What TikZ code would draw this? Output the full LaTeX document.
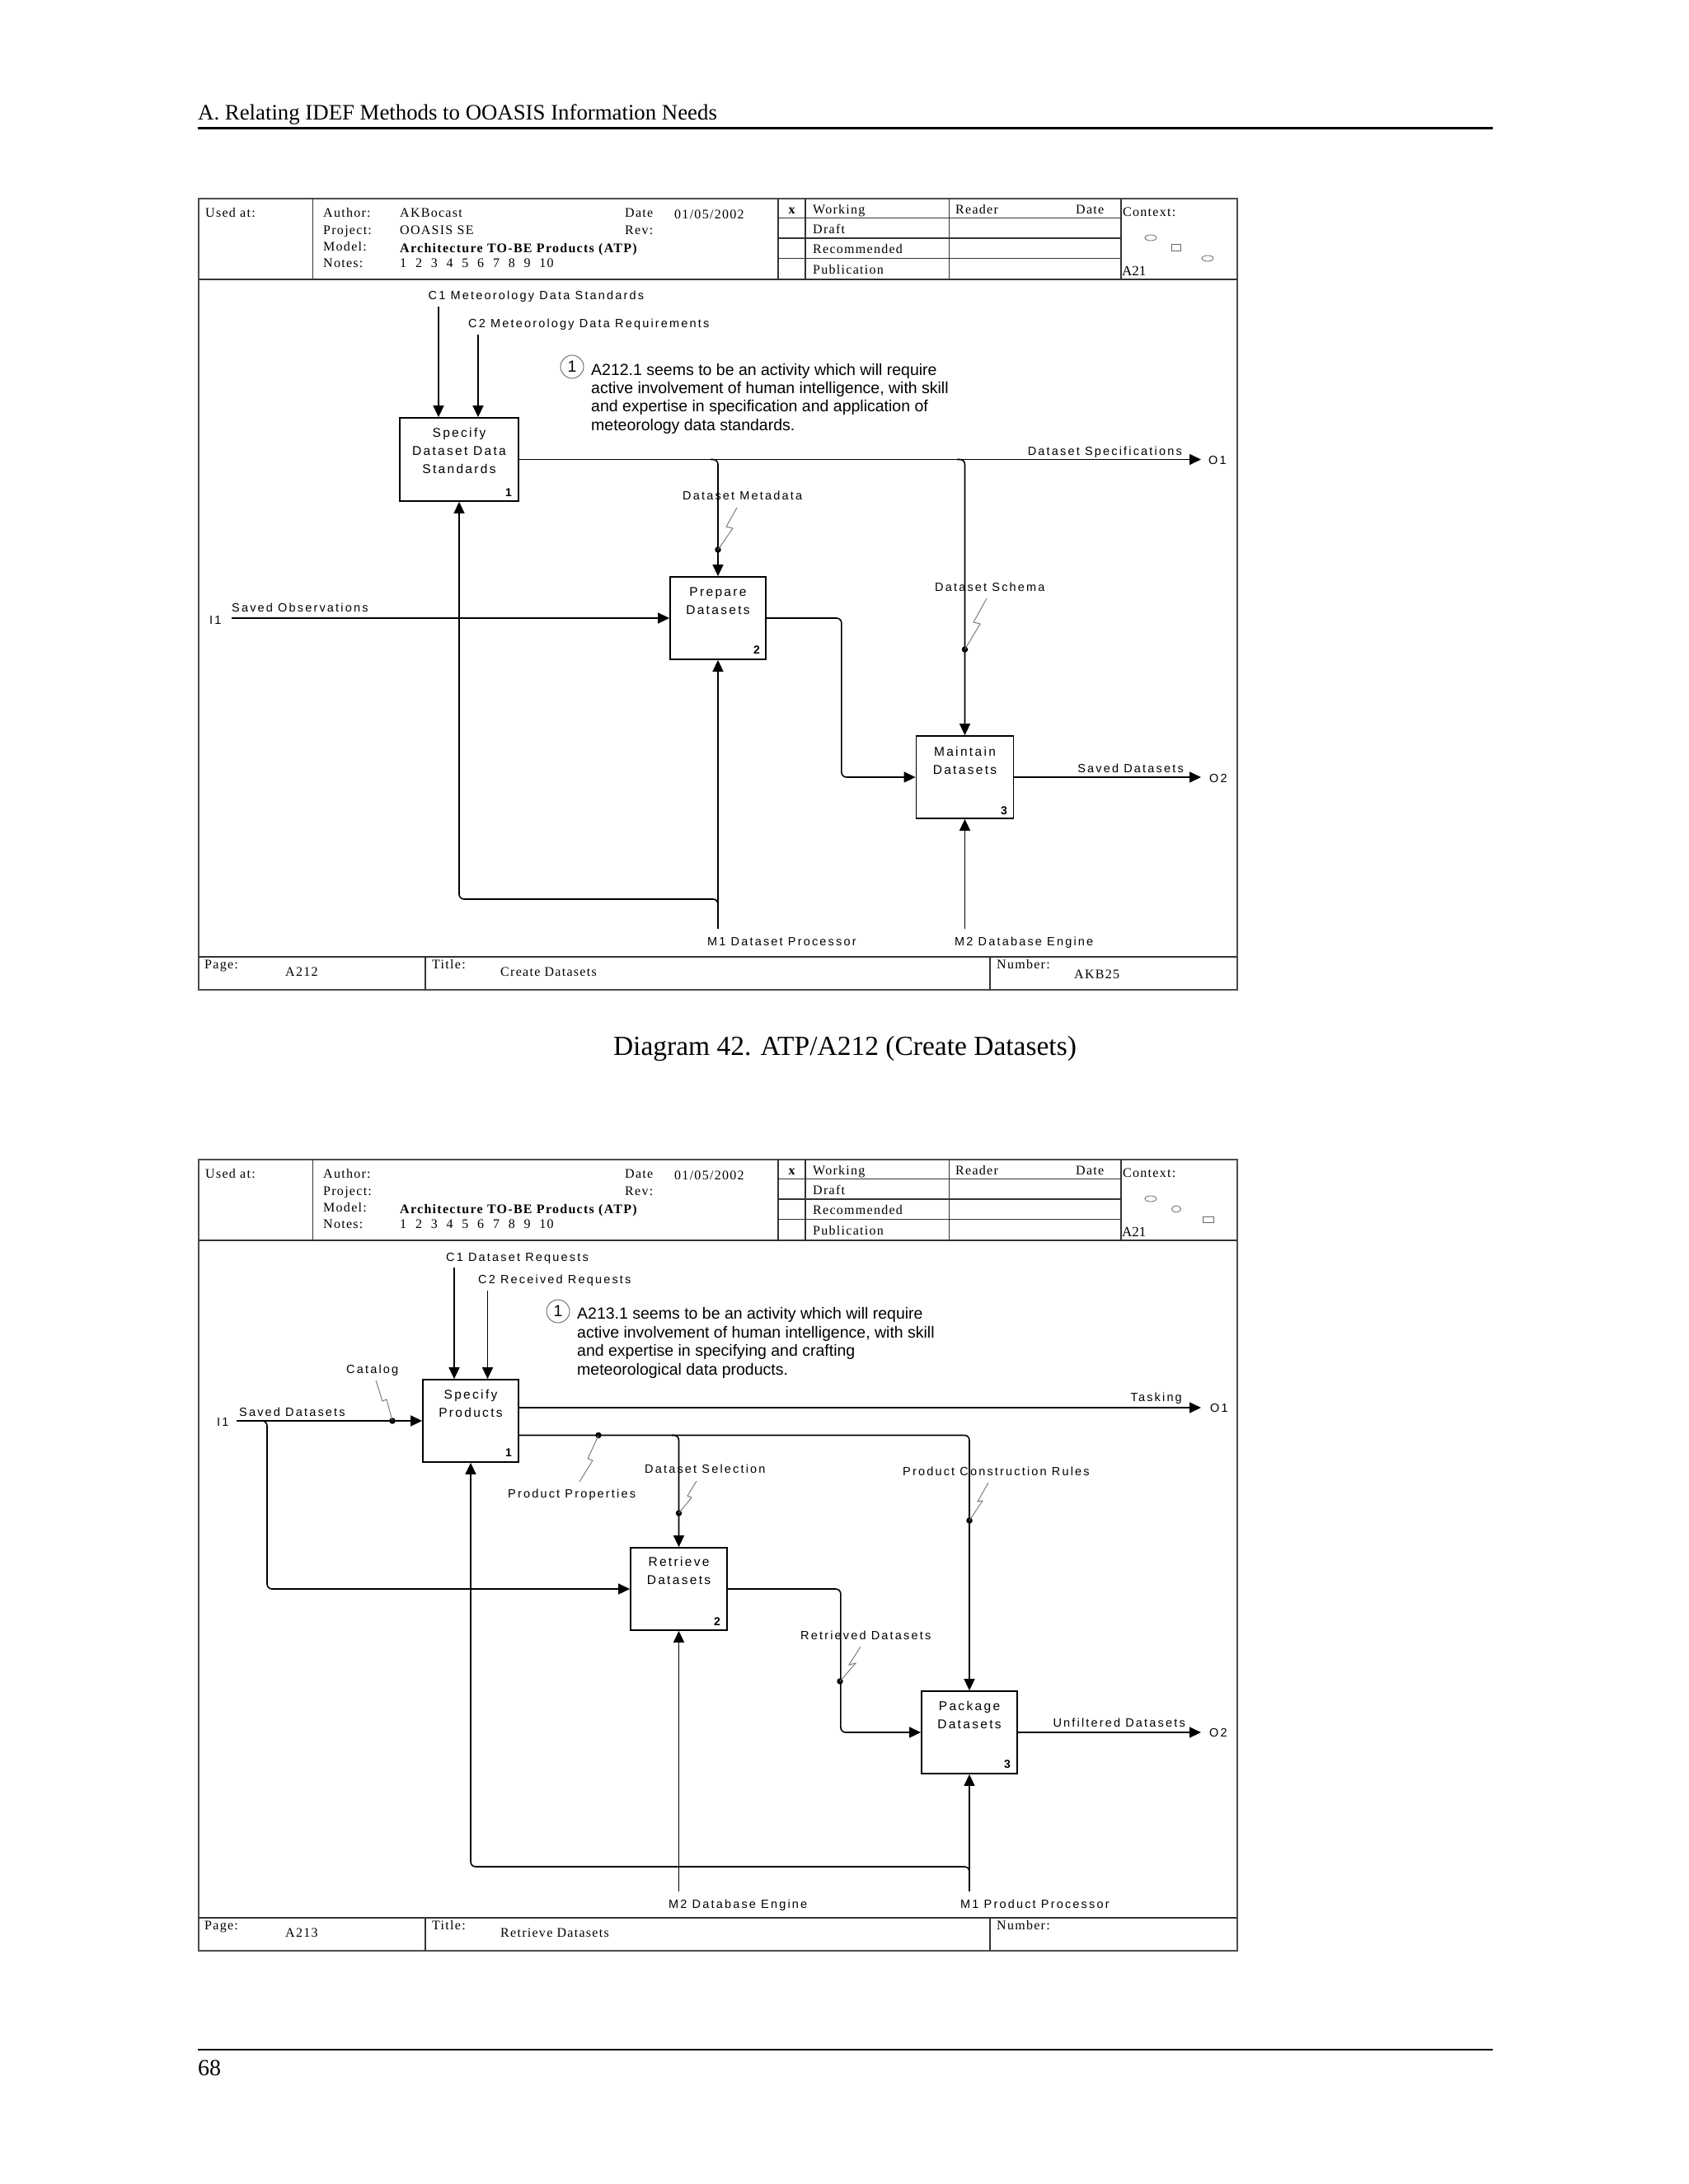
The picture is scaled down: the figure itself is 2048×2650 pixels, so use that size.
\documentclass[tikz,border=0pt]{standalone}
\usepackage{fontspec}
\setmainfont{Liberation Serif}
\newfontfamily\tbfont[LetterSpace=8]{Liberation Serif}
\newfontfamily\lblfont[LetterSpace=15]{Liberation Sans}
\newfontfamily\notefont{Liberation Sans}
\usetikzlibrary{arrows.meta,calc}
\tikzset{
  frm/.style={draw=black!70, line width=1.4},
  grd/.style={draw=black!80, line width=1.1},
  tb/.style={font=\tbfont\fontsize{16}{18}\selectfont, inner sep=0, anchor=base west},
  lbl/.style={font=\lblfont\fontsize{14.5}{17}\selectfont, inner sep=0, anchor=base west},
  lblr/.style={lbl, anchor=base east},
  ibox/.style={draw, line width=1.8, fill=white, inner sep=0},
  boxt/.style={font=\lblfont\fontsize{15.5}{22}\selectfont, align=center, inner sep=0, anchor=north},
  boxn/.style={font=\notefont\bfseries\fontsize{14}{16}\selectfont, inner sep=0, anchor=base east},
  wire/.style={line width=1.6},
  arr/.style={wire, -{Triangle[length=14pt,width=13pt]}},
  zig/.style={draw=black!55, line width=0.9},
  jdot/.style={circle, fill, inner sep=0, minimum size=7.5},
  notet/.style={font=\notefont\fontsize{19.5}{22.4}\selectfont, inner sep=0, anchor=base west},
  notec/.style={circle, draw=black!60, line width=0.9, minimum size=28, inner sep=0, font=\notefont\fontsize{19.5}{22}\selectfont},
  ctx/.style={draw=black!60, line width=0.8},
}
\newcommand\idefframe[7]{%
\begin{scope}[shift={(0,#2)}]
\draw[frm] (241,241) rectangle (1501,1201);
\draw[grd] (241,339) -- (1501,339);
\draw[grd] (379.5,241) -- (379.5,339);
\foreach \xx in {944,977,1151.5,1360} {\draw[grd] (\xx,241) -- (\xx,339);}
\foreach \yy in {264.5,289,313.5} {\draw[grd] (944,\yy) -- (1360,\yy);}
\draw[grd] (241,1161) -- (1501,1161);
\draw[grd] (516,1161) -- (516,1201);
\draw[grd] (1201,1161) -- (1201,1201);
\node[tb] (#1ua) at (249,263) {Used at:};
\node[tb] (#1au) at (392,263) {Author:};
\node[tb] (#1pj) at (392,284) {Project:};
\node[tb] (#1md) at (392,304) {Model:};
\node[tb] (#1nt) at (392,324) {Notes:};
\node[tb] (#1av) at (485,263) {#3};
\node[tb] (#1pv) at (485,284) {#4};
\node[tb, font=\tbfont\bfseries\fontsize{16}{18}\selectfont] (#1mv) at (485,306) {Architecture TO-BE Products (ATP)};
\foreach \n [count=\i from 0] in {1,...,10} {\node[tb] (#1nn\n) at (485+18.8*\i,324) {\n};}
\node[tb] (#1dt) at (758,263) {Date};
\node[tb] (#1dv) at (818,265) {01/05/2002};
\node[tb] (#1rv) at (758,284) {Rev:};
\node[tb, anchor=base, font=\tbfont\bfseries\fontsize{16}{18}\selectfont] (#1x) at (960.5,259) {x};
\node[tb] (#1wk) at (986,259) {Working};
\node[tb] (#1dr) at (986,283) {Draft};
\node[tb] (#1rc) at (986,307) {Recommended};
\node[tb] (#1pb) at (986,332) {Publication};
\node[tb] (#1rd) at (1159,259) {Reader};
\node[tb] (#1rdd) at (1305,259) {Date};
\node[tb] (#1cx) at (1362,262) {Context:};
\node[tb, font=\fontsize{17}{19}\selectfont] (#1a21) at (1361,334) {A21};
\node[tb] (#1pg) at (248,1175) {Page:};
\node[tb] (#1pgv) at (346,1184) {#5};
\node[tb] (#1tt) at (524,1175) {Title:};
\node[tb] (#1ttv) at (607,1184) {#6};
\node[tb] (#1nb) at (1209,1175) {Number:};
\node[tb] (#1nbv) at (1303,1187) {#7};
\end{scope}}
\begin{document}
\begin{tikzpicture}[x=1pt,y=-1pt]
\useasboundingbox (0,0) rectangle (2048,2650);
\fill[white] (0,0) rectangle (2048,2650);
% page furniture
\node[anchor=base west, inner sep=0, font=\fontsize{26.8}{30}\selectfont] (hdr) at (240,145) {A. Relating IDEF Methods to OOASIS Information Needs};
\draw[line width=3] (240,155.5) -- (1811,155.5);
\node[anchor=base, inner sep=0, font=\fontsize{33.5}{38}\selectfont] (cap) at (1025,1280) {Diagram 42. ATP/A212 (Create Datasets)};
\draw[line width=2] (240,2487) -- (1811,2487);
\node[anchor=base west, inner sep=0, font=\fontsize{28}{30}\selectfont] (pgno) at (240,2518) {68};
% frames
\idefframe{d1}{0}{AKBocast}{OOASIS SE}{A212}{Create Datasets}{AKB25}
\idefframe{d2}{1166}{}{}{A213}{Retrieve Datasets}{}
% context symbols
\draw[ctx] (1396,288.5) ellipse (7 and 3.5);
\draw[ctx] (1421,296.5) rectangle (1432,304.5);
\draw[ctx] (1465,313.5) ellipse (7 and 3.5);
\draw[ctx] (1396,1454.5) ellipse (7 and 3.5);
\draw[ctx] (1427,1467) ellipse (5.5 and 4);
\draw[ctx] (1459,1476.5) rectangle (1472,1483.5);

% ================= Diagram 1 =================
\node[ibox, minimum width=144, minimum height=101] (A1) at (557,557.5) {};
\node[boxt] (A1t) at (557,519) {Specify\\Dataset Data\\Standards};
\node[boxn] (A1n) at (621,602) {1};
\node[ibox, minimum width=116, minimum height=100] (A2) at (871,750) {};
\node[boxt] (A2t) at (871,713) {Prepare\\Datasets};
\node[boxn] (A2n) at (922,793) {2};
\node[ibox, minimum width=118, minimum height=100] (A3) at (1170.5,943) {};
\node[boxt] (A3t) at (1170.5,906) {Maintain\\Datasets};
\node[boxn] (A3n) at (1222,988) {3};

\node[notec] (n1c) at (694,445) {1};
\node[notet] (n1a) at (717,455) {A212.1 seems to be an activity which will require};
\node[notet] (n1b) at (717,477) {active involvement of human intelligence, with skill};
\node[notet] (n1d) at (717,499) {and expertise in specification and application of};
\node[notet] (n1e) at (717,522) {meteorology data standards.};

\coordinate (c1) at (532,372);
\coordinate (c2) at (580,406);
\node[lbl] (c1l) at (519.5,363) {C1 Meteorology Data Standards};
\node[lbl] (c2l) at (568,397) {C2 Meteorology Data Requirements};
\draw[arr] (c1) -- (c1 |- A1.north);
\draw[arr] (c2) -- (c2 |- A1.north);

\coordinate (o1) at (1457,557.5);
\draw[arr] (A1.east) -- (o1);
\node[lbl] (o1l) at (1466,563) {O1};
\node[lblr] (dsl) at (1434,552) {Dataset Specifications};
\coordinate (j1) at (862,557.5);
\draw[arr, rounded corners=6] (j1) -| (A2.north);
\coordinate (j2) at (1161,557.5);
\draw[arr, rounded corners=6] (j2) -| (A3.north);

\node[lbl] (dml) at (828,606) {Dataset Metadata};
\node[jdot] (dmd) at (871,667) {};
\draw[zig] (894,616) -- (881,639) -- (889,641) -- (dmd.center);

\coordinate (i1) at (281,750);
\node[lbl] (i1n) at (254,757) {I1};
\node[lbl] (sol) at (281,742) {Saved Observations};
\draw[arr] (i1) -- (A2.west);

\draw[arr, rounded corners=6] (A2.east) -- ++(91,0) |- (A3.west);

\node[lbl] (dscl) at (1134,717) {Dataset Schema};
\node[jdot] (dscd) at (1170.5,788) {};
\draw[zig] (1197,726) -- (1181,755) -- (1189,757) -- (dscd.center);

\coordinate (o2) at (1457,943);
\draw[arr] (A3.east) -- (o2);
\node[lbl] (o2l) at (1467,949) {O2};
\node[lblr] (sdl) at (1436,937) {Saved Datasets};

\coordinate (m1) at (871,1127);
\draw[arr] (m1) -- (A2.south);
\coordinate (m1b) at (871,1099);
\draw[arr, rounded corners=6] (m1b) -- (871,1091) -| (A1.south);
\node[lbl] (m1l) at (858,1147) {M1 Dataset Processor};
\coordinate (m2) at (1170.5,1127);
\draw[arr] (m2) -- (A3.south);
\node[lbl] (m2l) at (1158,1147) {M2 Database Engine};

% ================= Diagram 2 =================
\node[ibox, minimum width=116, minimum height=100] (B1) at (571,1724) {};
\node[boxt] (B1t) at (571,1686) {Specify\\Products};
\node[boxn] (B1n) at (621,1767) {1};
\node[ibox, minimum width=117, minimum height=100] (B2) at (823.5,1928) {};
\node[boxt] (B2t) at (823.5,1889) {Retrieve\\Datasets};
\node[boxn] (B2n) at (874,1972) {2};
\node[ibox, minimum width=116, minimum height=100] (B3) at (1176,2102) {};
\node[boxt] (B3t) at (1176,2064) {Package\\Datasets};
\node[boxn] (B3n) at (1226,2145) {3};

\node[notec] (n2c) at (677,1591) {1};
\node[notet] (n2a) at (700,1600) {A213.1 seems to be an activity which will require};
\node[notet] (n2b) at (700,1623) {active involvement of human intelligence, with skill};
\node[notet] (n2d) at (700,1645) {and expertise in specifying and crafting};
\node[notet] (n2e) at (700,1668) {meteorological data products.};

\coordinate (c1b) at (551,1538);
\coordinate (c2b) at (591.5,1566);
\node[lbl] (c1bl) at (541,1530) {C1 Dataset Requests};
\node[lbl] (c2bl) at (580,1557) {C2 Received Requests};
\draw[arr] (c1b) -- (c1b |- B1.north);
\draw[arr] (c2b) -- (c2b |- B1.north);

\coordinate (i1b) at (287,1724);
\node[lbl] (i1bn) at (263,1730) {I1};
\node[lbl] (sdbl) at (290,1718) {Saved Datasets};
\draw[arr] (i1b) -- (B1.west);
\node[lbl] (catl) at (420,1666) {Catalog};
\node[jdot] (catd) at (476,1724) {};
\draw[zig] (456,1675) -- (464,1700) -- (469,1698) -- (catd.center);
\coordinate (i1j) at (316,1724);
\coordinate (i1c) at (324,1928);
\draw[arr, rounded corners=6] (i1j) -| (i1c) -- (B2.west);

\coordinate (tk) at (1457,1708);
\draw[arr] (B1.east |- tk) -- (tk);
\node[lblr] (tkl) at (1434,1700) {Tasking};
\node[lbl] (o1bl) at (1468,1713) {O1};

\coordinate (prow) at (700,1741.5);
\draw[arr, rounded corners=6] (B1.east |- prow) -| (B3.north);
\coordinate (dsj) at (815,1741.5);
\draw[arr, rounded corners=6] (dsj) -| (B2.north);

\node[jdot] (ppd) at (726,1741.5) {};
\draw[zig] (ppd.center) -- (713,1770) -- (719,1772) -- (703,1798);
\node[lbl] (ppl) at (616,1817) {Product Properties};

\node[lbl] (dsel) at (782,1787) {Dataset Selection};
\node[jdot] (dsed) at (823.5,1836) {};
\draw[zig] (845,1797) -- (834,1815) -- (839,1817) -- (dsed.center);

\node[lbl] (pcrl) at (1095,1790) {Product Construction Rules};
\node[jdot] (pcrd) at (1176,1845) {};
\draw[zig] (1199,1799) -- (1186,1822) -- (1192,1821) -- (pcrd.center);

\draw[arr, rounded corners=6] (B2.east) -- ++(137,0) |- (B3.west);
\node[lbl] (rdl) at (971,1989) {Retrieved Datasets};
\node[jdot] (rdd) at (1019,2040) {};
\draw[zig] (1044,1998) -- (1030,2020) -- (1038,2018) -- (rdd.center);

\coordinate (o2b) at (1457,2102);
\draw[arr] (B3.east) -- (o2b);
\node[lblr] (ufl) at (1438,2095) {Unfiltered Datasets};
\node[lbl] (o2bl) at (1467,2107) {O2};

\coordinate (m2b) at (823.5,2295);
\draw[arr] (m2b) -- (B2.south);
\node[lbl] (m2bl) at (811,2315) {M2 Database Engine};
\coordinate (m1p) at (1176,2295);
\draw[arr] (m1p) -- (B3.south);
\coordinate (m1pb) at (1176,2273);
\draw[arr, rounded corners=6] (m1pb) -- (1176,2265) -| (B1.south);
\node[lbl] (m1pl) at (1165,2315) {M1 Product Processor};
\end{tikzpicture}
\end{document}
